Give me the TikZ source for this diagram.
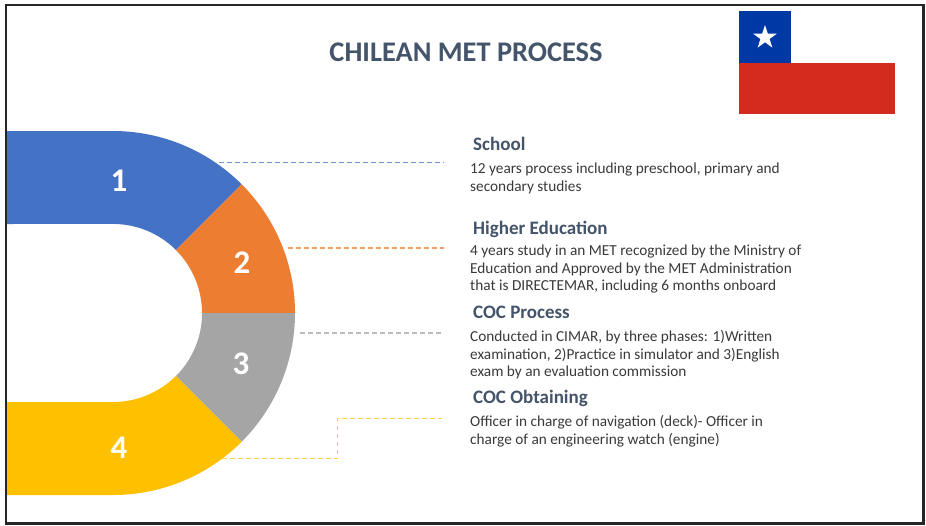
\documentclass[tikz,border=0pt]{standalone}
\usepackage{fontspec}
\setmainfont{Carlito}
\usetikzlibrary{shapes.geometric}
\definecolor{sblue}{HTML}{4472C4}
\definecolor{sorange}{HTML}{ED7D31}
\definecolor{sgray}{HTML}{A5A5A5}
\definecolor{syellow}{HTML}{FFC000}
\definecolor{head}{HTML}{44546A}
\definecolor{body}{HTML}{3A3A3A}
\definecolor{fblue}{HTML}{0039A6}
\definecolor{fred}{HTML}{D52B1E}
\tikzset{
  x=1pt,y=-1pt,
  num/.style={text=white,font=\fontsize{33}{33}\selectfont\bfseries,inner sep=0pt},
  heading/.style={anchor=base west,inner sep=0pt,text=head,font=\fontsize{19}{22}\selectfont\bfseries},
  bodytext/.style={anchor=north west,inner sep=0pt,align=left,text=body,font=\fontsize{15.3}{17.2}\selectfont},
  leader/.style={dashed,dash pattern=on 4.5pt off 3.5pt,line width=1.5pt},
}
\begin{document}
\begin{tikzpicture}
\useasboundingbox (0,0) rectangle (926,525);
\fill[white] (0,0) rectangle (926,525);
% flag
\fill[fblue] (739,11) rectangle (791,63);
\fill[fred] (739,63) rectangle (895,114);
\node[star,star points=5,star point ratio=2.618,fill=white,minimum size=25pt,inner sep=0pt] (flagstar) at (765,37.5) {};
% segments
\fill[sblue] (6,131) -- (113,131) arc[start angle=-90,end angle=-45,radius=182] -- ++(-65.7,65.7) arc[start angle=-45,end angle=-90,radius=89] -- (6,224) -- cycle;
\fill[sorange] (241.7,184.3) arc[start angle=-45,end angle=0,radius=182] -- (202,313) arc[start angle=0,end angle=-45,radius=89] -- cycle;
\fill[sgray] (295,313) arc[start angle=0,end angle=45,radius=182] -- (176,376) arc[start angle=45,end angle=0,radius=89] -- cycle;
\fill[syellow] (241.7,441.7) arc[start angle=45,end angle=90,radius=182] -- (6,495) -- (6,402) -- (113,402) arc[start angle=90,end angle=45,radius=89] -- cycle;
\node[num] (n1) at (119,181) {1};
\node[num] (n2) at (242,263) {2};
\node[num] (n3) at (241,364) {3};
\node[num] (n4) at (119,448) {4};
% leaders
\coordinate (a1) at (219,162.5); \coordinate (b1) at (444,162.5);
\coordinate (a2) at (288,248); \coordinate (b2) at (444,248);
\coordinate (a3) at (300,333); \coordinate (b3) at (444,333);
\coordinate (a4) at (222,458.5); \coordinate (k4) at (337.5,458.5); \coordinate (m4) at (337.5,418.5); \coordinate (b4) at (442,418.5);
\draw[leader,sblue!75] (a1) -- (b1);
\draw[leader,sorange!75] (a2) -- (b2);
\draw[leader,sgray!75] (a3) -- (b3);
\draw[leader,syellow!75] (a4) -- (k4) -- (m4) -- (b4);
% text
\node[anchor=center,inner sep=0pt,text=head,font=\fontsize{28.4}{32}\selectfont\bfseries] (title) at (466,52) {CHILEAN MET PROCESS};
\node[heading] (h1) at (473,150) {School};
\node[bodytext] (t1) at (470,163) {12 years process including preschool, primary and\\secondary studies};
\node[heading] (h2) at (473,234) {Higher Education};
\node[bodytext] (t2) at (470,245) {4 years study in an MET recognized by the Ministry of\\Education and Approved by the MET Administration\\that is DIRECTEMAR, including 6 months onboard};
\node[heading] (h3) at (473,318) {COC Process};
\node[bodytext] (t3) at (470,330.5) {Conducted in CIMAR, by three phases: 1)Written\\examination, 2)Practice in simulator and 3)English\\exam by an evaluation commission};
\node[heading] (h4) at (473,403) {COC Obtaining};
\node[bodytext] (t4) at (470,415.5) {Officer in charge of navigation (deck)- Officer in\\charge of an engineering watch (engine)};
% frame
\draw[line width=2.5pt,black!85] (6,5) rectangle (923.5,523.5);
\end{tikzpicture}
\end{document}
